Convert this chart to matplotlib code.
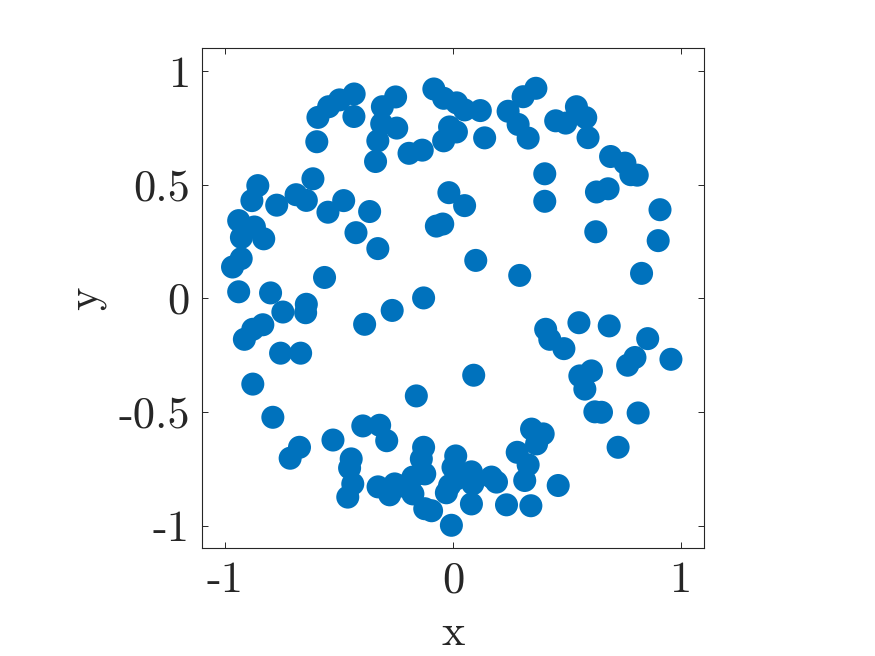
import numpy as np
import matplotlib
matplotlib.use('Agg')
import matplotlib.pyplot as plt

# points
x = [-0.084, -0.041, 0.016, 0.051, 0.120, -0.015, 0.015, -0.041, 0.139,
     -0.252, -0.310, -0.313, -0.247, -0.330, -0.340, -0.193, -0.135,
     -0.434, -0.498, -0.546, -0.593, -0.435, -0.598, -0.615, -0.689, -0.644,
     -0.774, -0.857, -0.883, -0.941, -0.872, -0.929, -0.831, -0.930, -0.968,
     -0.941, -0.801, -0.549, -0.480, -0.564, -0.426, -0.366, -0.330,
     -0.018, 0.051, -0.073, -0.045, -0.129,
     0.364, 0.308, 0.242, 0.286, 0.330, 0.451, 0.495, 0.542, 0.583, 0.593,
     0.692, 0.755, 0.781, 0.809, 0.403, 0.403, 0.630, 0.681, 0.909, 0.901,
     0.627, 0.100, 0.293, 0.828,
     -0.747, -0.644, -0.647, -0.835, -0.879, -0.916, -0.757, -0.669, -0.879,
     -0.791, -0.388, -0.267, -0.161, -0.674, -0.715, -0.527, -0.396, -0.322,
     -0.291, -0.447, -0.454, -0.440, -0.462, -0.329, -0.278, -0.227, -0.176,
     -0.129, -0.139, -0.124, -0.176, -0.124, -0.094, -0.015, 0.012, 0.000,
     0.015, -0.029, 0.081, 0.087, 0.169, 0.191, 0.081, -0.007, -0.256,
     0.345, 0.396, 0.367, 0.282, 0.330, 0.315, 0.462, 0.235, 0.342,
     0.091, 0.407, 0.425, 0.487, 0.553, 0.686, 0.855, 0.957, 0.799, 0.767,
     0.608, 0.557, 0.579, 0.623, 0.652, 0.813, 0.725]
y = [0.921, 0.880, 0.860, 0.829, 0.826, 0.754, 0.732, 0.693, 0.706,
     0.886, 0.843, 0.768, 0.749, 0.693, 0.602, 0.638, 0.652,
     0.899, 0.873, 0.843, 0.796, 0.800, 0.689, 0.526, 0.456, 0.431,
     0.410, 0.496, 0.430, 0.342, 0.314, 0.268, 0.262, 0.175, 0.138,
     0.029, 0.024, 0.379, 0.430, 0.092, 0.289, 0.382, 0.219,
     0.465, 0.408, 0.318, 0.327, 0.002,
     0.924, 0.887, 0.823, 0.765, 0.705, 0.781, 0.771, 0.843, 0.795, 0.707,
     0.624, 0.595, 0.544, 0.542, 0.548, 0.427, 0.468, 0.482, 0.390, 0.254,
     0.293, 0.167, 0.101, 0.110,
     -0.060, -0.026, -0.063, -0.116, -0.136, -0.180, -0.241, -0.241, -0.377,
     -0.523, -0.114, -0.053, -0.429, -0.655, -0.703, -0.623, -0.561, -0.558,
     -0.626, -0.706, -0.746, -0.816, -0.874, -0.829, -0.864, -0.825, -0.786,
     -0.655, -0.706, -0.772, -0.860, -0.925, -0.934, -0.823, -0.693, -0.743,
     -0.794, -0.855, -0.763, -0.816, -0.786, -0.808, -0.904, -0.998, -0.816,
     -0.575, -0.596, -0.640, -0.677, -0.732, -0.801, -0.823, -0.908, -0.912,
     -0.338, -0.136, -0.180, -0.221, -0.107, -0.121, -0.177, -0.268, -0.260, -0.294,
     -0.319, -0.341, -0.399, -0.499, -0.501, -0.504, -0.655]

xticks = [-1, 0, 1]
xticklabels = ['-1', '0', '1']
yticks = [-1, -0.5, 0, 0.5, 1]
yticklabels = ['-1', '-0.5', '0', '0.5', '1']

plt.rcParams['font.family'] = ['cmr10', 'DejaVu Serif']
dark = '#262626'

fig = plt.figure(figsize=(8.75, 6.56), dpi=100)
ax = fig.add_axes([0.2314, 0.1639, 0.5726, 0.7625])
ax.scatter(x, y, s=275, color='#0072BD', edgecolors='none', zorder=3)

ax.set_xlim(-1.1, 1.1)
ax.set_ylim(-1.1, 1.1)
ax.set_xticks(xticks)
ax.set_xticklabels(xticklabels)
ax.set_yticks(yticks)
ax.set_yticklabels(yticklabels)
ax.tick_params(direction='in', length=4, width=0.7, colors=dark,
               top=True, right=True, labelsize=32, pad=9)
for sp in ax.spines.values():
    sp.set_color(dark)
    sp.set_linewidth(0.8)

ax.set_xlabel('x', fontsize=32, color=dark, labelpad=9)
ax.set_ylabel('y', fontsize=32, color=dark, labelpad=9)

plt.savefig('out.png', dpi=100)
